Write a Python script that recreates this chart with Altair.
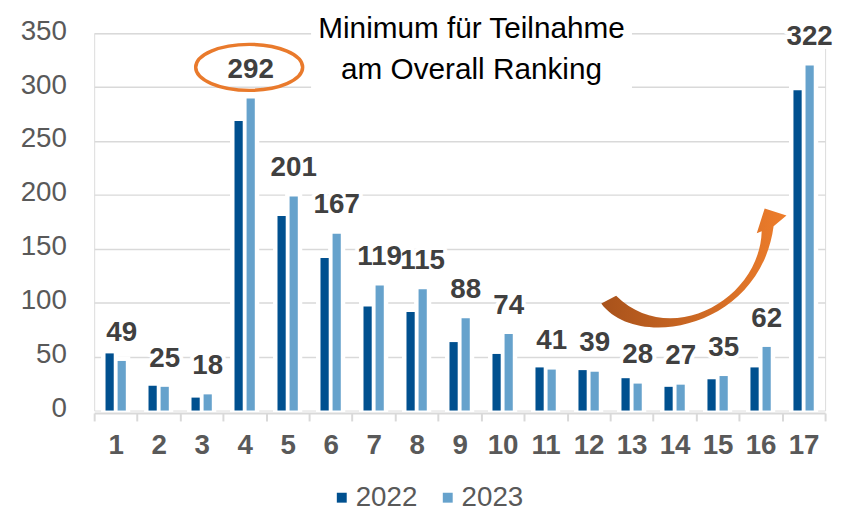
import altair as alt
import pandas as pd

# ---- data ----
categories = [str(i) for i in range(1, 18)]
years = ["2022", "2023"]
values_2022 = [53, 23, 12, 268.5, 180.5, 141.5, 96.5, 91.5, 63.5, 52.5, 40, 37.5, 30, 22, 29, 40, 297]
values_2023 = [46, 22, 15, 289.5, 198.5, 164, 116, 112.5, 85.5, 71, 38, 36, 25, 24, 32, 59, 320]
labels_2023 = [49, 25, 18, 292, 201, 167, 119, 115, 88, 74, 41, 39, 28, 27, 35, 62, 322]
y_ticks = [0, 50, 100, 150, 200, 250, 300, 350]
annotation_lines = ["Minimum für Teilnahme", "am Overall Ranking"]

colors = ["#00508F", "#66A2CC"]
FONT = "Liberation Sans"

bars = pd.DataFrame(
    {
        "Gruppe": categories * 2,
        "Jahr": [years[0]] * len(categories) + [years[1]] * len(categories),
        "Wert": values_2022 + values_2023,
    }
)
labels = pd.DataFrame(
    {"Gruppe": categories, "Jahr": years[1], "Wert": values_2023, "Label": [str(v) for v in labels_2023]}
)
one = pd.DataFrame({"k": [0]})

W, H = 738, 381

x_enc = alt.X(
    "Gruppe:N",
    sort=categories,
    scale=alt.Scale(paddingInner=0, paddingOuter=0),
    axis=alt.Axis(
        title=None,
        labelAngle=0,
        labelFont=FONT,
        labelFontSize=28,
        labelFontWeight="bold",
        labelColor="#595959",
        labelPadding=11,
        tickBand="extent",
        tickSize=8,
        tickColor="#d9d9d9",
        tickWidth=2,
        domainColor="#d9d9d9",
        domainWidth=2,
        offset=2.5,
        grid=False,
        zindex=1,
    ),
)
xo_enc = alt.XOffset(
    "Jahr:N", scale=alt.Scale(domain=years, paddingInner=0.32, paddingOuter=0.94)
)
y_enc = alt.Y(
    "Wert:Q",
    scale=alt.Scale(domain=[0, 350], nice=False),
    axis=alt.Axis(
        title=None,
        values=y_ticks,
        ticks=False,
        tickSize=0,
        domain=False,
        grid=True,
        gridColor="#d9d9d9",
        gridWidth=1.5,
        gridOpacity=alt.condition("datum.value == 0", alt.value(0), alt.value(1)),
        labelFont=FONT,
        labelFontSize=28,
        labelColor="#595959",
        labelPadding=28,
        labelOffset=-2,
    ),
)

base = alt.Chart(bars)

halo_bars = base.mark_bar(fill="white", stroke="white", strokeWidth=9).encode(
    x=x_enc, xOffset=xo_enc, y=y_enc
)

color_bars = base.mark_bar().encode(
    x=x_enc,
    xOffset=xo_enc,
    y=y_enc,
    color=alt.Color(
        "Jahr:N",
        scale=alt.Scale(domain=years, range=colors),
        legend=alt.Legend(
            title=None,
            orient="none",
            legendX=236,
            legendY=455,
            direction="horizontal",
            symbolType="square",
            symbolSize=100,
            symbolStrokeWidth=0,
            labelFont=FONT,
            labelFontSize=28,
            labelColor="#595959",
            labelOffset=0,
            columnPadding=16,
            padding=0,
        ),
    ),
)

lab = alt.Chart(labels)
label_halo = lab.mark_text(
    font=FONT, fontSize=28, fontWeight="bold", baseline="alphabetic", dy=-20.5,
    fill="white", stroke="white", strokeWidth=8, strokeJoin="round",
).encode(x=x_enc, xOffset=xo_enc, y=y_enc, text="Label:N")
label_text = lab.mark_text(
    font=FONT, fontSize=28, fontWeight="bold", baseline="alphabetic", dy=-20.5, color="#404040"
).encode(x=x_enc, xOffset=xo_enc, y=y_enc, text="Label:N")

# annotation: white box behind the text
note_box = alt.Chart(one).mark_rect(fill="white").encode(
    x=alt.value(219), x2=alt.value(543), y=alt.value(-13), y2=alt.value(59)
)
note_text = alt.Chart(one).mark_text(
    font=FONT, fontSize=30, color="#000000", align="center", baseline="alphabetic", lineHeight=41.3
).encode(x=alt.value(381), y=alt.value(4.5), text=alt.value(annotation_lines))

# orange ellipse around the 292 label
ellipse_path = "M -1 0 A 1 0.43 0 1 1 1 0 A 1 0.43 0 1 1 -1 0 Z"
ellipse = alt.Chart(one).mark_point(
    shape=ellipse_path, size=(2 * 54) ** 2, filled=False, stroke="#E97A2C",
    strokeWidth=3.5, opacity=1,
).encode(x=alt.value(156.5), y=alt.value(34.5))

# curved orange arrow
arrow_path = (
    "M -0.93 0.28 C -0.58 0.76 0.67 0.54 0.81 -0.50 "
    "L 0.94 -0.61 L 0.72 -0.68 L 0.64 -0.43 L 0.69 -0.45 "
    "C 0.67 0.24 -0.23 0.74 -0.78 0.20 Z"
)
arrow = alt.Chart(one).mark_point(
    shape=arrow_path,
    size=200 ** 2,
    filled=True,
    fill=alt.LinearGradient(
        gradient="linear",
        stops=[
            alt.GradientStop(color="#A8521B", offset=0),
            alt.GradientStop(color="#EE7D2B", offset=1),
        ],
        x1=0, x2=1, y1=0, y2=0,
    ),
    strokeWidth=0,
    opacity=1,
    fillOpacity=1,
).encode(x=alt.value(605), y=alt.value(245))

chart = (
    alt.layer(note_box, halo_bars, color_bars, label_halo, label_text, ellipse, arrow, note_text)
    .properties(
        width=W,
        height=H,
        autosize=alt.AutoSizeParams(type="none"),
        padding={"left": 87, "top": 23, "right": 10, "bottom": 100},
        background="white",
    )
    .configure_view(strokeWidth=0)
    .configure(font=FONT)
)

chart.save("out.html", embed_options={"renderer": "svg", "actions": False})
